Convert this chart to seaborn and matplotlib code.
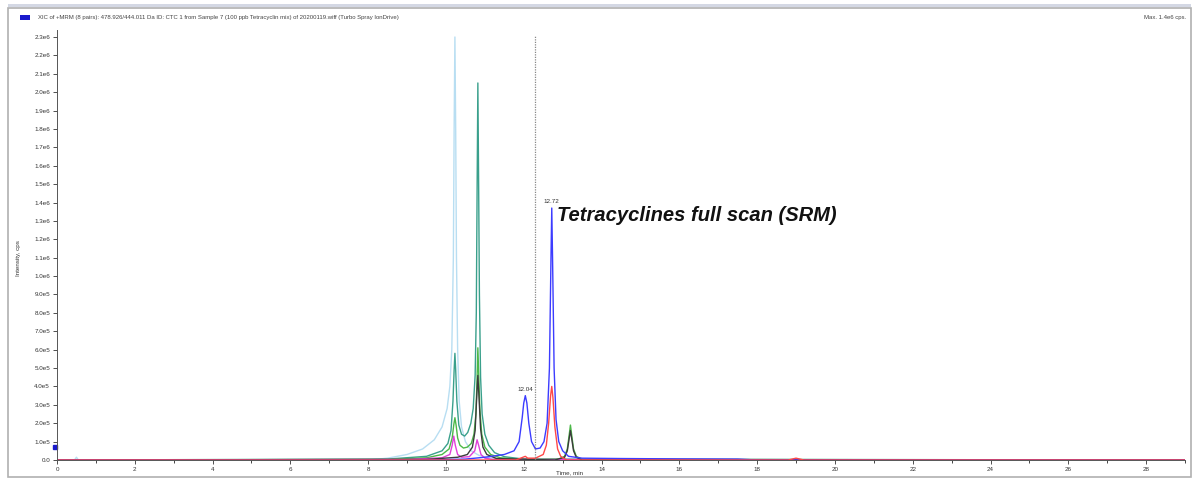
import numpy as np
import pandas as pd
import matplotlib
matplotlib.use("Agg")
import matplotlib.pyplot as plt
import matplotlib.ticker as mticker
from matplotlib.patches import Rectangle
import seaborn as sns

# traces: retention time (min) and intensity (cps)
ice_t = [0, 0.45, 0.5, 0.55, 0.7, 8.0, 8.5, 9.0, 9.4, 9.7, 9.9, 10.03, 10.1, 10.15, 10.19, 10.21, 10.23, 10.25, 10.27, 10.3, 10.34, 10.4, 10.5, 10.65, 10.85, 11.1, 11.5, 12.0, 29]
ice_v = [0, 0, 1.5e4, 0, 0, 0, 1e4, 3e4, 6e4, 1.1e5, 1.8e5, 2.8e5, 4e5, 6e5, 1.1e6, 1.8e6, 2.3e6, 1.8e6, 1.1e6, 6e5, 3.2e5, 1.8e5, 1e5, 5e4, 2.5e4, 1.2e4, 5e3, 0, 0]

teal_t = [0, 8.5, 9.5, 9.9, 10.05, 10.13, 10.18, 10.21, 10.23, 10.25, 10.28, 10.33, 10.4, 10.48, 10.56, 10.64, 10.7, 10.75, 10.78, 10.8, 10.82, 10.84, 10.86, 10.89, 10.93, 11.0, 11.1, 11.25, 11.5, 12.0, 29]
teal_v = [0, 5e3, 2e4, 5e4, 9e4, 1.6e5, 3.2e5, 4.9e5, 5.8e5, 4.9e5, 3.2e5, 1.9e5, 1.4e5, 1.3e5, 1.5e5, 2.0e5, 2.8e5, 4.6e5, 8e5, 1.45e6, 2.05e6, 1.5e6, 9e5, 4.5e5, 2.5e5, 1.4e5, 8e4, 4e4, 1.8e4, 5e3, 0]

green_t = [0, 8.5, 9.5, 9.9, 10.08, 10.16, 10.2, 10.23, 10.26, 10.3, 10.36, 10.45, 10.55, 10.65, 10.72, 10.77, 10.8, 10.82, 10.84, 10.87, 10.92, 11.0, 11.15, 11.4, 12.0, 12.9, 13.05, 13.12, 13.17, 13.2, 13.23, 13.28, 13.35, 13.5, 29]
green_v = [0, 3e3, 1.2e4, 3e4, 6e4, 1.2e5, 1.9e5, 2.3e5, 1.9e5, 1.2e5, 8e4, 6.5e4, 7e4, 9e4, 1.4e5, 2.5e5, 4.5e5, 6.1e5, 4.8e5, 2.8e5, 1.4e5, 7e4, 3e4, 1.2e4, 3e3, 5e3, 2e4, 6e4, 1.4e5, 1.9e5, 1.4e5, 6e4, 2e4, 3e3, 0]

magenta_t = [0, 9.0, 9.9, 10.1, 10.16, 10.2, 10.24, 10.3, 10.4, 10.6, 10.74, 10.8, 10.84, 10.9, 11.0, 11.2, 29]
magenta_v = [0, 3e3, 1.2e4, 3e4, 8e4, 1.3e5, 8e4, 3e4, 1.5e4, 1.8e4, 5e4, 1.1e5, 8e4, 3e4, 1e4, 3e3, 0]

dark_t = [0, 9.5, 10.3, 10.55, 10.68, 10.75, 10.79, 10.82, 10.85, 10.89, 10.95, 11.05, 11.3, 12.8, 13.05, 13.12, 13.17, 13.2, 13.23, 13.28, 13.35, 13.5, 29]
dark_v = [0, 3e3, 1.5e4, 3e4, 7e4, 1.6e5, 3.4e5, 4.6e5, 3.4e5, 1.7e5, 7e4, 3e4, 8e3, 0, 1.5e4, 5e4, 1.2e5, 1.6e5, 1.2e5, 5e4, 1.5e4, 0, 0]

blue_t = [0, 9.5, 10.5, 11.0, 11.5, 11.75, 11.88, 11.96, 12.0, 12.04, 12.08, 12.13, 12.2, 12.3, 12.42, 12.52, 12.6, 12.66, 12.7, 12.72, 12.74, 12.78, 12.83, 12.9, 13.0, 13.15, 13.5, 14.5, 16.0, 17.5, 18.0, 29]
blue_v = [0, 0, 5e3, 1.5e4, 3e4, 5e4, 1e5, 2.3e5, 3.1e5, 3.5e5, 3.1e5, 2e5, 1e5, 6e4, 6.5e4, 1e5, 2e5, 5e5, 1.1e6, 1.37e6, 1.1e6, 5e5, 2.2e5, 1e5, 5e4, 2e4, 1e4, 8e3, 6e3, 5e3, 0, 0]

red_t = [0, 11.8, 11.98, 12.04, 12.1, 12.3, 12.5, 12.58, 12.64, 12.69, 12.72, 12.75, 12.8, 12.87, 12.95, 13.1, 18.8, 19.0, 19.2, 29]
red_v = [0, 0, 1.5e4, 2e4, 1e4, 1e4, 3e4, 8e4, 2e5, 3.5e5, 4.0e5, 3.4e5, 1.8e5, 6e4, 2e4, 0, 0, 1e4, 0, 0]

names = ["ice", "teal", "green", "magenta", "dark", "blue", "red"]
colors = ["#b8def2", "#3aa08c", "#4cb848", "#e040d8", "#3c3c3c", "#3c3cff", "#ff4848"]
times = [ice_t, teal_t, green_t, magenta_t, dark_t, blue_t, red_t]
vals = [ice_v, teal_v, green_v, magenta_v, dark_v, blue_v, red_v]

peak_labels = ["12.04", "12.72"]
peak_t = [12.04, 12.72]
peak_v = [3.5e5, 1.37e6]

df = pd.concat([pd.DataFrame({"t": t, "v": v, "trace": n}) for n, t, v in zip(names, times, vals)])

sns.set_style("white")
plt.rcParams["font.family"] = ["Liberation Sans", "DejaVu Sans"]

fig = plt.figure(figsize=(11.95, 4.79), dpi=100)
# window frame, title-bar strip and header
fig.patches.append(Rectangle((8 / 1195, 1 - 7 / 479), 1183 / 1195, 3 / 479, transform=fig.transFigure,
                             facecolor="#d4d8e4", edgecolor="none"))
fig.patches.append(Rectangle((8 / 1195, 2 / 479), 1183 / 1195, 469 / 479, transform=fig.transFigure,
                             fill=False, edgecolor="#b0b0b0", lw=1.2))
fig.patches.append(Rectangle((20 / 1195, 1 - 20 / 479), 10 / 1195, 5 / 479, transform=fig.transFigure,
                             facecolor="#1a1acc", edgecolor="none"))
fig.text(38 / 1195, 1 - 18 / 479,
         "XIC of +MRM (8 pairs): 478.926/444.011 Da ID: CTC 1 from Sample 7 (100 ppb Tetracyclin mix) of 20200119.wiff (Turbo Spray IonDrive)",
         fontsize=4.3, color="#444444", va="center")
fig.text(1186 / 1195, 1 - 18 / 479, "Max. 1.4e6 cps.", fontsize=4.3, color="#444444", va="center", ha="right")

ax = fig.add_axes([57 / 1195, 19 / 479, 1128 / 1195, 430 / 479])
sns.lineplot(data=df, x="t", y="v", hue="trace", hue_order=names, palette=colors,
             estimator=None, sort=False, lw=1.0, legend=False, ax=ax)

ax.axvline(12.3, ymax=0.985, color="#888888", lw=0.9, ls=(0, (1, 1)))
for lab, t, v in zip(peak_labels, peak_t, peak_v):
    ax.text(t, v + 2e4, lab, fontsize=4.5, ha="center", va="bottom", color="#333333")
ax.text(12.85, 1.33e6, "Tetracyclines full scan (SRM)", fontsize=14.5, fontweight="bold",
        fontstyle="italic", va="center", color="#111111")

ax.plot([-0.05], [7e4], marker="s", ms=3, color="#1a1acc", clip_on=False)

ax.set_xlim(0, 29.0)
ax.set_ylim(0, 2.338e6)
ax.xaxis.set_major_locator(mticker.MultipleLocator(2))
ax.xaxis.set_minor_locator(mticker.MultipleLocator(1))
ax.yaxis.set_major_locator(mticker.FixedLocator(np.arange(0, 24) * 1e5))


def sci(v, pos):
    if v <= 0:
        return "0.0"
    e = int(np.floor(np.log10(v) + 1e-9))
    return "%.1fe%d" % (v / 10 ** e, e)


ax.yaxis.set_major_formatter(mticker.FuncFormatter(sci))
ax.tick_params(axis="both", which="major", length=3, width=0.6, labelsize=4.5, colors="#333333", pad=2,
               direction="out")
ax.tick_params(axis="x", which="minor", length=2, width=0.6, direction="out")
ax.tick_params(left=True, bottom=True, which="both")
for s in ["top", "right"]:
    ax.spines[s].set_visible(False)
for s in ["left", "bottom"]:
    ax.spines[s].set_color("#555555")
    ax.spines[s].set_linewidth(0.7)

ax.set_xlabel("Time, min", fontsize=4.5, color="#333333")
ax.xaxis.set_label_coords((570 - 57) / 1128, -0.025)
ax.set_ylabel("Intensity, cps", fontsize=4.5, color="#333333")
ax.yaxis.set_label_coords(-0.032, 0.47)

fig.savefig("out.png", dpi=100)
